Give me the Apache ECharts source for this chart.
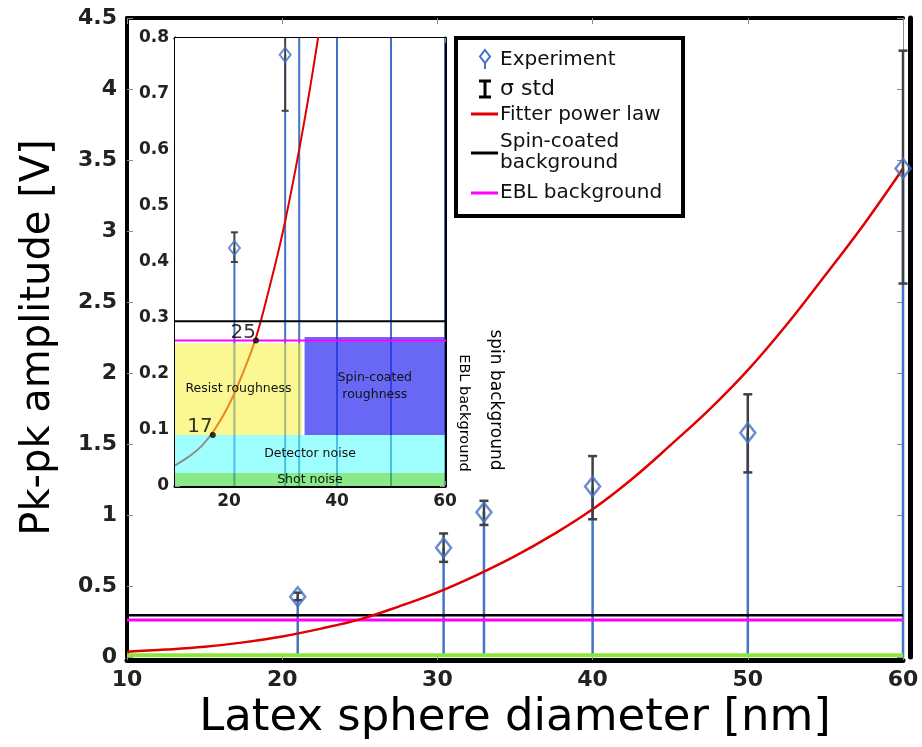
<!DOCTYPE html>
<html>
<head>
<meta charset="utf-8">
<title>Pk-pk amplitude vs latex sphere diameter</title>
<script src="https://cdn.jsdelivr.net/npm/echarts@6.0.0/dist/echarts.min.js"></script>
<style>
  html, body { margin: 0; padding: 0; background: #fff; }
  #chart { width: 922px; height: 747px; }
</style>
</head>
<body>
<div id="chart"></div>
<script>
// Measured peak-to-peak amplitude for each latex sphere diameter
const diameter   = [21, 30.4, 33, 40, 50, 60];
const amplitude  = [0.425, 0.77, 1.02, 1.20, 1.58, 3.44];
const sigmaLow   = [0.40, 0.67, 0.93, 0.97, 1.30, 2.63];
const sigmaHigh  = [0.453, 0.87, 1.10, 1.415, 1.85, 4.27];

// Fitted power law, sampled along the diameter axis
const fitX = [10, 12.5, 15, 17.5, 20, 22.5, 25, 27.5, 30, 32.5, 35, 37.5, 40, 42.5, 45, 47.5, 50, 52.5, 55, 57.5, 60];
const fitY = [0.037, 0.052, 0.072, 0.103, 0.145, 0.2, 0.265, 0.355, 0.455, 0.575, 0.71, 0.865, 1.04, 1.25, 1.49, 1.74, 2.02, 2.34, 2.69, 3.05, 3.44];

// Background levels [V]
const spinCoatedLevel = 0.294;
const eblLevel = 0.26;
const shotLevel = 0.012;

// Detection limits marked on the fit
const thresholdDiameters = [17, 25];
const thresholdAmplitudes = [0.091, 0.26];

// Noise / roughness bands of the zoomed view
const zoneNames = ['Shot noise', 'Detector noise', 'Resist roughness', 'Spin-coated\nroughness'];
const zoneX0 = [10, 10, 10, 34];
const zoneX1 = [60, 60, 33.5, 60];
const zoneY0 = [0, 0.023, 0.091, 0.091];
const zoneY1 = [0.023, 0.091, 0.255, 0.266];

// Axis ticks
const mainXTicks = { min: 10, max: 60, step: 10 };
const mainYTicks = { min: 0, max: 4.5, step: 0.5 };
const insetXTicks = [20, 40, 60];
const insetYTicks = { min: 0, max: 0.8, step: 0.1 };
const insetXRange = [10, 60];
const bracketEnd = 69;   // right end of the spin background bracket
const eblEnd = 65.5;     // right end of the EBL marker line

// ---------- styling ----------
const FONT = 'DejaVu Sans';
const BLUE = '#4472c4';
const ERR = '#404040';
const RED = '#e00000';
const MAGENTA = '#ff00ff';
const GREEN = '#8ee63c';
const TICK = '#8c8c8c';
const zoneFill = ['rgb(60,220,60)', 'rgb(80,255,255)', 'rgb(247,243,60)', 'rgb(40,40,240)'];
const zoneAlpha = [0.6, 0.55, 0.55, 0.7];

const points = diameter.map((d, i) => [d, amplitude[i]]);
const errors = diameter.map((d, i) => [d, sigmaLow[i], sigmaHigh[i]]);
const fit = fitX.map((x, i) => [x, fitY[i]]);
const thresholds = thresholdDiameters.map((d, i) => [d, thresholdAmplitudes[i]]);
const zones = zoneNames.map((n, i) => [zoneX0[i], zoneY0[i], zoneX1[i], zoneY1[i], i]);

function stemRenderer(width) {
  return function (params, api) {
    const x = api.value(0), y = api.value(1);
    const a = api.coord([x, 0]), b = api.coord([x, y]);
    return { type: 'line', shape: { x1: a[0], y1: a[1], x2: b[0], y2: b[1] },
             style: { stroke: BLUE, lineWidth: width } };
  };
}
function errorRenderer(width, cap) {
  return function (params, api) {
    const x = api.value(0);
    const lo = api.coord([x, api.value(1)]), hi = api.coord([x, api.value(2)]);
    const st = { stroke: ERR, lineWidth: width };
    return { type: 'group', children: [
      { type: 'line', shape: { x1: lo[0], y1: lo[1], x2: hi[0], y2: hi[1] }, style: st },
      { type: 'line', shape: { x1: lo[0] - cap, y1: lo[1], x2: lo[0] + cap, y2: lo[1] }, style: st },
      { type: 'line', shape: { x1: hi[0] - cap, y1: hi[1], x2: hi[0] + cap, y2: hi[1] }, style: st }
    ]};
  };
}
function zoneRenderer(params, api) {
  const i = api.value(4);
  const p0 = api.coord([api.value(0), api.value(3)]);
  const p1 = api.coord([api.value(2), api.value(1)]);
  return { type: 'group', children: [
    { type: 'rect', shape: { x: p0[0], y: p0[1], width: p1[0] - p0[0], height: p1[1] - p0[1] },
      style: { fill: zoneFill[i], opacity: zoneAlpha[i] } },
    { type: 'text', x: (p0[0] + p1[0]) / 2, y: (p0[1] + p1[1]) / 2, z2: 10,
      style: { text: zoneNames[i], align: 'center', verticalAlign: 'middle',
               fontFamily: FONT, fontSize: 12.5, fill: '#111', lineHeight: 17 } }
  ]};
}
function hLine(level, x0, x1) { return [[x0, level], [x1, level]]; }

const boldLabel = size => ({ fontFamily: FONT, fontWeight: 'bold', fontSize: size, color: '#222' });
const insideTicks = len => ({ show: true, inside: true, length: len, lineStyle: { color: TICK, width: 1 } });

const option = {
  animation: false,
  backgroundColor: '#fff',
  grid: [
    { left: 127, right: 19, top: 18, bottom: 90 },
    { left: 175, right: 477, top: 38, bottom: 261, show: true, backgroundColor: '#fff', borderWidth: 0, z: 3 }
  ],
  xAxis: [
    { gridIndex: 0, type: 'value', position: 'bottom', offset: 3,
      min: mainXTicks.min, max: mainXTicks.max, interval: mainXTicks.step,
      axisLine: { show: true, onZero: false, lineStyle: { color: '#000', width: 5 } },
      axisTick: insideTicks(6), axisLabel: Object.assign(boldLabel(22), { margin: 9 }),
      splitLine: { show: false },
      name: 'Latex sphere diameter [nm]', nameLocation: 'middle', nameGap: 33,
      nameTextStyle: { fontFamily: FONT, fontSize: 45, color: '#000' } },
    { gridIndex: 0, type: 'value', position: 'top',
      min: mainXTicks.min, max: mainXTicks.max, interval: mainXTicks.step,
      axisLine: { show: true, onZero: false, lineStyle: { color: '#000', width: 4 } },
      axisTick: insideTicks(6), axisLabel: { show: false }, splitLine: { show: false } },
    { gridIndex: 1, type: 'value', position: 'bottom',
      min: insetXRange[0], max: insetXRange[1],
      axisLine: { show: true, onZero: false, lineStyle: { color: '#000', width: 3 } },
      axisTick: Object.assign(insideTicks(5), { customValues: insetXTicks }),
      axisLabel: Object.assign(boldLabel(17), { margin: 7, customValues: insetXTicks }),
      splitLine: { show: false } },
    { gridIndex: 1, type: 'value', position: 'top',
      min: insetXRange[0], max: insetXRange[1],
      axisLine: { show: true, onZero: false, lineStyle: { color: '#000', width: 3 } },
      axisTick: Object.assign(insideTicks(5), { customValues: insetXTicks }),
      axisLabel: { show: false }, splitLine: { show: false } }
  ],
  yAxis: [
    { gridIndex: 0, type: 'value', position: 'left',
      min: mainYTicks.min, max: mainYTicks.max, interval: mainYTicks.step,
      axisLine: { show: true, onZero: false, lineStyle: { color: '#000', width: 4 } },
      axisTick: insideTicks(6), axisLabel: Object.assign(boldLabel(22), { margin: 10 }),
      splitLine: { show: false },
      name: 'Pk-pk amplitude [V]', nameLocation: 'middle', nameGap: 68,
      nameTextStyle: { fontFamily: FONT, fontSize: 40, color: '#000' } },
    { gridIndex: 0, type: 'value', position: 'right',
      min: mainYTicks.min, max: mainYTicks.max, interval: mainYTicks.step,
      axisLine: { show: true, onZero: false, lineStyle: { color: TICK, width: 1 } },
      axisTick: insideTicks(6), axisLabel: { show: false }, splitLine: { show: false } },
    { gridIndex: 0, type: 'value', position: 'right', offset: 7,
      min: mainYTicks.min, max: mainYTicks.max, interval: mainYTicks.step,
      axisLine: { show: true, onZero: false, lineStyle: { color: '#000', width: 5 } },
      axisTick: { show: false }, axisLabel: { show: false }, splitLine: { show: false } },
    { gridIndex: 1, type: 'value', position: 'left',
      min: insetYTicks.min, max: insetYTicks.max, interval: insetYTicks.step,
      axisLine: { show: true, onZero: false, lineStyle: { color: '#000', width: 3 } },
      axisTick: insideTicks(5), axisLabel: Object.assign(boldLabel(17), { margin: 6 }),
      splitLine: { show: false } },
    { gridIndex: 1, type: 'value', position: 'right',
      min: insetYTicks.min, max: insetYTicks.max, interval: insetYTicks.step,
      axisLine: { show: true, onZero: false, lineStyle: { color: '#000', width: 3 } },
      axisTick: insideTicks(5), axisLabel: { show: false }, splitLine: { show: false } }
  ],
  series: [
    // ---- main panel ----
    { type: 'custom', name: 'stems', xAxisIndex: 0, yAxisIndex: 0, z: 1, silent: true,
      renderItem: stemRenderer(2.5), encode: { x: 0, y: 1 }, data: points },
    { type: 'line', name: 'Shot noise level', xAxisIndex: 0, yAxisIndex: 0, z: 2, symbol: 'none', silent: true,
      lineStyle: { color: GREEN, width: 4 }, data: hLine(shotLevel, 10, 60) },
    { type: 'line', name: 'EBL background', xAxisIndex: 0, yAxisIndex: 0, z: 2, symbol: 'none', silent: true,
      lineStyle: { color: MAGENTA, width: 3 }, data: hLine(eblLevel, 10, 60) },
    { type: 'line', name: 'Spin-coated background', xAxisIndex: 0, yAxisIndex: 0, z: 2, symbol: 'none', silent: true,
      lineStyle: { color: '#000', width: 2.5 }, data: hLine(spinCoatedLevel, 10, 60) },
    { type: 'line', name: 'Fitter power law', xAxisIndex: 0, yAxisIndex: 0, z: 3, symbol: 'none', silent: true,
      smooth: 0.4, lineStyle: { color: RED, width: 2.5 }, data: fit },
    { type: 'custom', name: 'σ std', xAxisIndex: 0, yAxisIndex: 0, z: 4, silent: true,
      renderItem: errorRenderer(2.5, 4.5), encode: { x: 0, y: [1, 2] }, data: errors },
    { type: 'scatter', name: 'Experiment', xAxisIndex: 0, yAxisIndex: 0, z: 5, silent: true,
      symbol: 'diamond', symbolSize: [15, 19],
      itemStyle: { color: 'rgba(255,255,255,0)', borderColor: BLUE, borderWidth: 2.5 }, data: points },

    // ---- zoomed panel ----
    { type: 'custom', xAxisIndex: 2, yAxisIndex: 3, z: 11, silent: true, clip: true,
      renderItem: stemRenderer(2), encode: { x: 0, y: 1 }, data: points },
    { type: 'line', xAxisIndex: 2, yAxisIndex: 3, z: 12, symbol: 'none', silent: true, clip: true,
      smooth: 0.4, lineStyle: { color: RED, width: 2 }, data: fit },
    { type: 'custom', xAxisIndex: 2, yAxisIndex: 3, z: 13, silent: true, clip: true,
      renderItem: errorRenderer(2, 3.5), encode: { x: 0, y: [1, 2] }, data: errors },
    { type: 'scatter', xAxisIndex: 2, yAxisIndex: 3, z: 13, silent: true, clip: true,
      symbol: 'diamond', symbolSize: [11, 14],
      itemStyle: { color: 'rgba(255,255,255,0)', borderColor: BLUE, borderWidth: 2 }, data: points },
    { type: 'custom', xAxisIndex: 2, yAxisIndex: 3, z: 14, silent: true, clip: true,
      renderItem: zoneRenderer, encode: { x: [0, 2], y: [1, 3] }, data: zones },
    { type: 'line', xAxisIndex: 2, yAxisIndex: 3, z: 15, symbol: 'none', silent: true, clip: false,
      lineStyle: { color: MAGENTA, width: 2 }, data: hLine(eblLevel, 10, eblEnd) },
    { type: 'line', xAxisIndex: 2, yAxisIndex: 3, z: 15, symbol: 'none', silent: true, clip: false,
      lineStyle: { color: '#000', width: 2 }, data: hLine(spinCoatedLevel, 10, bracketEnd) },
    { type: 'line', xAxisIndex: 2, yAxisIndex: 3, z: 15, symbol: 'none', silent: true, clip: false,
      lineStyle: { color: '#000', width: 2 }, data: hLine(0, 60, bracketEnd) },
    { type: 'scatter', xAxisIndex: 2, yAxisIndex: 3, z: 16, silent: true,
      symbol: 'circle', symbolSize: 6, itemStyle: { color: '#000' },
      label: { show: true, formatter: p => String(p.value[0]), position: 'left', distance: -3, offset: [0, -8],
               fontFamily: FONT, fontSize: 20, color: '#000' },
      data: thresholds }
  ],
  graphic: [
    // rotated notes beside the zoomed panel
    { type: 'text', x: 495, y: 400, rotation: -Math.PI / 2, z: 20,
      style: { text: 'spin background', align: 'center', verticalAlign: 'middle',
               fontFamily: FONT, fontSize: 17, fill: '#000' } },
    { type: 'text', x: 464, y: 413, rotation: -Math.PI / 2, z: 20,
      style: { text: 'EBL background', align: 'center', verticalAlign: 'middle',
               fontFamily: FONT, fontSize: 14.5, fill: '#000' } },
    // legend
    { type: 'group', z: 30, children: [
      { type: 'rect', shape: { x: 456, y: 38, width: 227, height: 178 },
        style: { fill: '#fff', stroke: '#000', lineWidth: 4 } },
      { type: 'polygon', shape: { points: [[485, 50], [490, 56.5], [485, 63], [480, 56.5]] },
        style: { fill: 'none', stroke: BLUE, lineWidth: 2 } },
      { type: 'line', shape: { x1: 485, y1: 63, x2: 485, y2: 69 }, style: { stroke: BLUE, lineWidth: 2 } },
      { type: 'text', x: 500, y: 60, style: { text: 'Experiment', verticalAlign: 'middle', fontFamily: FONT, fontSize: 20, fill: '#111' } },
      { type: 'line', shape: { x1: 485, y1: 81, x2: 485, y2: 97 }, style: { stroke: '#000', lineWidth: 3 } },
      { type: 'line', shape: { x1: 479, y1: 81, x2: 491, y2: 81 }, style: { stroke: '#000', lineWidth: 3 } },
      { type: 'line', shape: { x1: 479, y1: 97, x2: 491, y2: 97 }, style: { stroke: '#000', lineWidth: 3 } },
      { type: 'text', x: 500, y: 89, style: { text: 'σ std', verticalAlign: 'middle', fontFamily: FONT, fontSize: 22, fill: '#111' } },
      { type: 'line', shape: { x1: 471, y1: 114, x2: 498, y2: 114 }, style: { stroke: RED, lineWidth: 3 } },
      { type: 'text', x: 500, y: 115, style: { text: 'Fitter power law', verticalAlign: 'middle', fontFamily: FONT, fontSize: 20, fill: '#111' } },
      { type: 'line', shape: { x1: 471, y1: 153, x2: 498, y2: 153 }, style: { stroke: '#000', lineWidth: 3 } },
      { type: 'text', x: 500, y: 152.5, style: { text: 'Spin-coated\nbackground', verticalAlign: 'middle', lineHeight: 21, fontFamily: FONT, fontSize: 20, fill: '#111' } },
      { type: 'line', shape: { x1: 471, y1: 193, x2: 498, y2: 193 }, style: { stroke: MAGENTA, lineWidth: 3 } },
      { type: 'text', x: 500, y: 193, style: { text: 'EBL background', verticalAlign: 'middle', fontFamily: FONT, fontSize: 20, fill: '#111' } }
    ]}
  ]
};

const chart = echarts.init(document.getElementById('chart'), null, { renderer: 'canvas' });
chart.setOption(option);
</script>
</body>
</html>
